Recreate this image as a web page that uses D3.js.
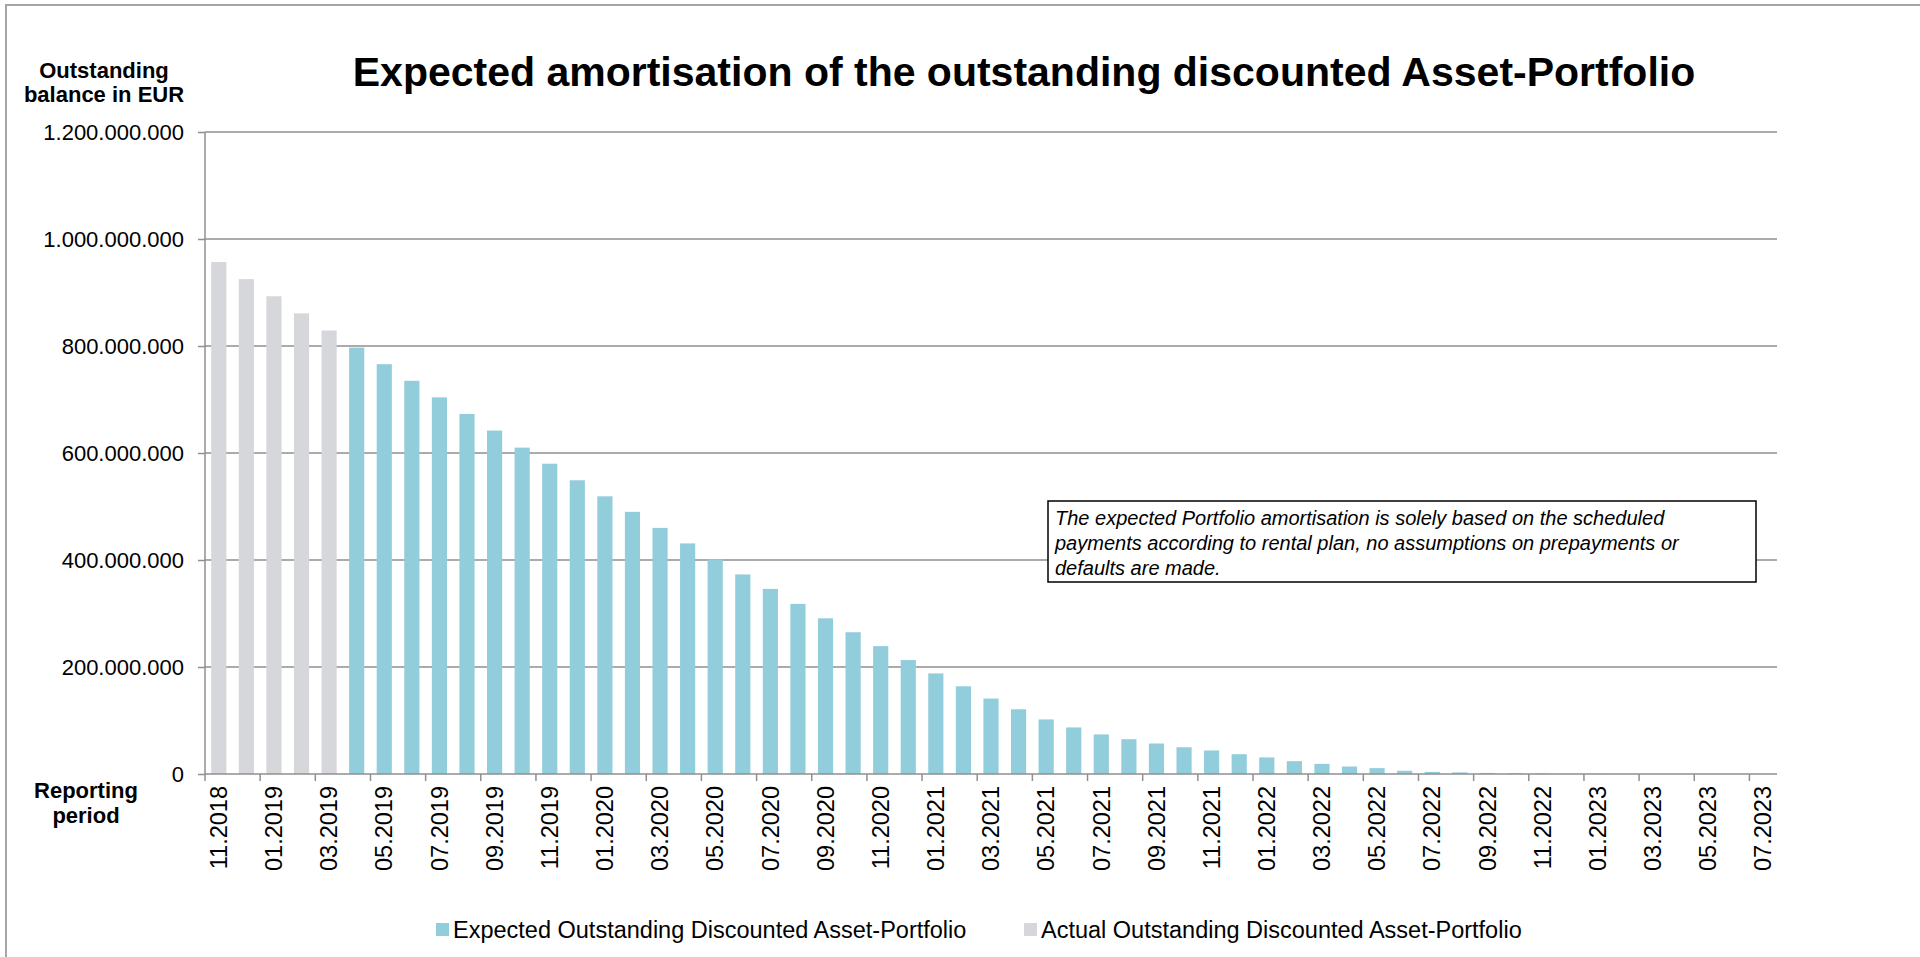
<!DOCTYPE html>
<meta charset="utf-8">
<style>

  body{
    margin: 0;
    background: #fff;
  }

  svg {
    display: block;
    font-family: "Liberation Sans", Arial, sans-serif;
  }

  .grid line {
    stroke: #8f8f8f;
    stroke-width: 1.5px;
  }

  .yaxis line, .xaxis line, .axisline {
    stroke: #8f8f8f;
    stroke-width: 1.5px;
  }

  .yaxis text, .xaxis text {
    fill: #000;
  }

</style>
<svg width="1920" height="957"></svg>
<script src="https://d3js.org/d3.v7.min.js"></script>
<script>

  // reporting periods (one bar per month)
  var months = [
    '11.2018','12.2018',
    '01.2019','02.2019','03.2019','04.2019','05.2019','06.2019','07.2019','08.2019','09.2019','10.2019','11.2019','12.2019',
    '01.2020','02.2020','03.2020','04.2020','05.2020','06.2020','07.2020','08.2020','09.2020','10.2020','11.2020','12.2020',
    '01.2021','02.2021','03.2021','04.2021','05.2021','06.2021','07.2021','08.2021','09.2021','10.2021','11.2021','12.2021',
    '01.2022','02.2022','03.2022','04.2022','05.2022','06.2022','07.2022','08.2022','09.2022','10.2022','11.2022','12.2022',
    '01.2023','02.2023','03.2023','04.2023','05.2023','06.2023','07.2023'
  ];

  // outstanding balance, million EUR
  var actual = [957, 925, 893, 861, 829];
  var actualStart = '11.2018';

  var expected = [
    797, 766, 735, 704, 673, 642, 610, 580, 549, 519,
    490, 460, 431, 401, 373, 346, 318, 291, 265, 239,
    213, 188, 164, 141, 121, 102, 87, 74, 65, 57,
    50, 44, 37, 31, 24, 19, 14, 11, 6, 4,
    3, 2, 1.5, 1, 0.5, 0.3, 0, 0, 0, 0,
    0, 0
  ];
  var expectedStart = '04.2019';

  var yTicks = [0, 200, 400, 600, 800, 1000, 1200];

  var seriesNames = ['Expected Outstanding Discounted Asset-Portfolio', 'Actual Outstanding Discounted Asset-Portfolio'];
  var seriesColors = ['#92cddc', '#d6d7db'];

  var noteLines = [
    'The expected Portfolio amortisation is solely based on the scheduled',
    'payments according to rental plan, no assumptions on prepayments or',
    'defaults are made.'
  ];

  var svg = d3.select("svg");

  var plotLeft = 205, plotRight = 1777, plotTop = 132, plotBottom = 774;

  var x = d3.scaleBand()
    .domain(months)
    .range([plotLeft, plotRight])
    .paddingInner(0.45)
    .paddingOuter(0.225);

  var y = d3.scaleLinear()
    .domain([0, 1200])
    .range([plotBottom, plotTop]);

  var euro = d3.formatLocale({decimal: ",", thousands: ".", grouping: [3], currency: ["", " €"]}).format(",.0f");

  // outer frame (runs off the page on the right and bottom)
  svg.append("path")
    .attr("d", "M6,960 V5 H1925")
    .attr("fill", "none")
    .attr("stroke", "#a6a6a6")
    .attr("stroke-width", 2);

  // gridlines
  svg.append("g")
    .attr("class", "grid")
    .selectAll("line")
    .data(yTicks.filter(d => d > 0))
    .enter().append("line")
    .attr("x1", plotLeft)
    .attr("x2", plotRight)
    .attr("y1", d => y(d))
    .attr("y2", d => y(d));

  // y axis
  var yAxis = svg.append("g")
    .attr("class", "yaxis")
    .attr("transform", "translate(" + plotLeft + ",0)")
    .call(d3.axisLeft(y).tickValues(yTicks).tickSize(7).tickPadding(14).tickFormat(d => euro(d * 1e6)));
  yAxis.select(".domain").remove();
  yAxis.selectAll("text").attr("font-size", 22).attr("font-family", null);

  // bars
  function toRows(values, start) {
    var i0 = months.indexOf(start);
    return values.map((v, i) => ({month: months[i0 + i], value: v}));
  }

  var barData = [
    {name: seriesNames[1], color: seriesColors[1], rows: toRows(actual, actualStart)},
    {name: seriesNames[0], color: seriesColors[0], rows: toRows(expected, expectedStart)}
  ];

  svg.append("g")
    .selectAll("g")
    .data(barData)
    .enter().append("g")
    .attr("fill", d => d.color)
    .selectAll("rect")
    .data(d => d.rows.filter(r => r.value > 0))
    .enter().append("rect")
    .attr("x", d => x(d.month))
    .attr("width", x.bandwidth())
    .attr("y", d => y(d.value))
    .attr("height", d => y(0) - y(d.value));

  // axis lines
  svg.append("line")
    .attr("class", "axisline")
    .attr("x1", plotLeft).attr("x2", plotLeft)
    .attr("y1", y(1200)).attr("y2", y(0));
  svg.append("line")
    .attr("class", "axisline")
    .attr("x1", plotLeft).attr("x2", plotRight)
    .attr("y1", y(0)).attr("y2", y(0));

  // x axis: tick every second month, on the left edge of the labelled month
  var labelled = months.filter((m, i) => i % 2 == 0);
  var gap = (x.step() - x.bandwidth()) / 2;

  var xAxis = svg.append("g").attr("class", "xaxis");

  xAxis.selectAll("line")
    .data(labelled)
    .enter().append("line")
    .attr("x1", d => x(d) - gap)
    .attr("x2", d => x(d) - gap)
    .attr("y1", y(0))
    .attr("y2", y(0) + 7);

  xAxis.selectAll("text")
    .data(labelled)
    .enter().append("text")
    .attr("transform", d => "translate(" + (x(d) + x.bandwidth() / 2) + "," + (y(0) + 12) + ") rotate(-90)")
    .attr("text-anchor", "end")
    .attr("dy", "0.35em")
    .attr("font-size", 23.5)
    .text(d => d);

  // axis titles
  svg.append("text")
    .attr("text-anchor", "middle")
    .attr("font-size", 22)
    .attr("font-weight", "bold")
    .selectAll("tspan")
    .data(['Outstanding', 'balance in EUR'])
    .enter().append("tspan")
    .attr("x", 104)
    .attr("y", (d, i) => 78 + i * 24)
    .text(d => d);

  svg.append("text")
    .attr("text-anchor", "middle")
    .attr("font-size", 22)
    .attr("font-weight", "bold")
    .selectAll("tspan")
    .data(['Reporting', 'period'])
    .enter().append("tspan")
    .attr("x", 86)
    .attr("y", (d, i) => 798 + i * 25)
    .text(d => d);

  // title
  svg.append("text")
    .attr("x", 1024)
    .attr("y", 86)
    .attr("text-anchor", "middle")
    .attr("font-size", 41)
    .attr("font-weight", "bold")
    .text("Expected amortisation of the outstanding discounted Asset-Portfolio");

  // note box
  var note = svg.append("g").attr("transform", "translate(1048,501)");
  note.append("rect")
    .attr("width", 708)
    .attr("height", 81)
    .attr("fill", "#fff")
    .attr("stroke", "#000")
    .attr("stroke-width", 1.5);
  note.append("text")
    .attr("font-size", 20)
    .attr("font-style", "italic")
    .selectAll("tspan")
    .data(noteLines)
    .enter().append("tspan")
    .attr("x", 7)
    .attr("y", (d, i) => 24 + i * 25)
    .text(d => d);

  // legend
  var legendX = [436, 1024];
  var legend = svg.append("g")
    .selectAll("g")
    .data(seriesNames)
    .enter().append("g")
    .attr("transform", (d, i) => "translate(" + legendX[i] + ",923)");
  legend.append("rect")
    .attr("width", 13)
    .attr("height", 13)
    .attr("fill", (d, i) => seriesColors[i]);
  legend.append("text")
    .attr("x", 17)
    .attr("y", 15)
    .attr("font-size", 23.5)
    .text(d => d);

</script>
